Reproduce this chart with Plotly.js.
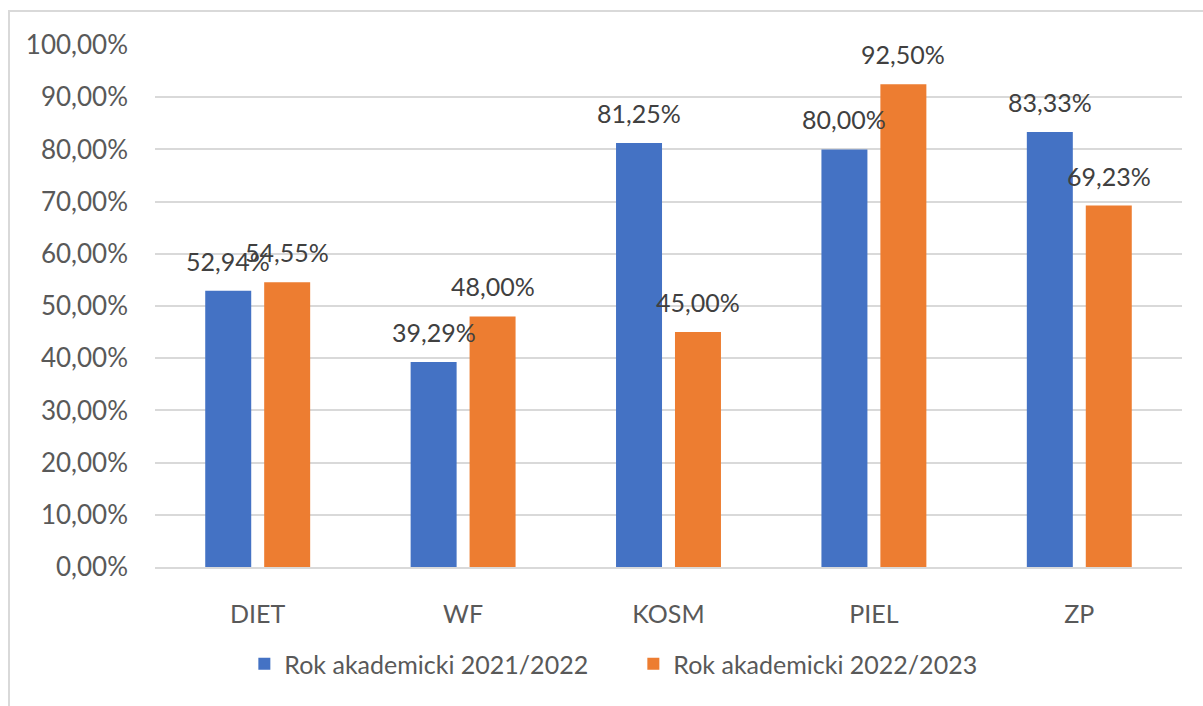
<!DOCTYPE html>
<html>
<head>
<meta charset="utf-8">
<script src="https://cdn.plot.ly/plotly-3.0.1.min.js"></script>
<style>
  html, body { margin: 0; padding: 0; background: #ffffff; overflow: hidden; }
  #frame { position: absolute; left: 8px; top: 10px; width: 1210px; height: 720px; border: 2px solid #D9D9D9; box-sizing: border-box; }
  #chart { position: absolute; left: 0; top: 0; width: 1203px; height: 706px; }
</style>
</head>
<body>
<div id="frame"></div>
<div id="chart"></div>
<script>
const categories = ["DIET", "WF", "KOSM", "PIEL", "ZP"];
const seriesNames = ["Rok akademicki 2021/2022", "Rok akademicki 2022/2023"];
const values2122 = [52.94, 39.29, 81.25, 80.00, 83.33];
const values2223 = [54.55, 48.00, 45.00, 92.50, 69.23];
const yTickValues = [0, 10, 20, 30, 40, 50, 60, 70, 80, 90, 100];

const colors = ["#4472C4", "#ED7D31"];
const fontFamily = "Lato, 'Liberation Sans', Arial, sans-serif";
const series = [values2122, values2223];

const fmt = v => v.toFixed(2).replace('.', ',') + '%';

const traces = series.map((vals, i) => ({
  type: 'bar',
  name: seriesNames[i],
  x: categories,
  y: vals,
  marker: { color: colors[i] },
  hoverinfo: 'none'
}));

const slotOffset = 29.5;
const labelShift = 30;

const annotations = [];
series.forEach((vals, i) => {
  vals.forEach((v, j) => {
    annotations.push({
      x: categories[j], y: v, xref: 'x', yref: 'y',
      text: fmt(v), showarrow: false,
      xshift: i === 0 ? -slotOffset : slotOffset,
      yshift: labelShift,
      yanchor: 'middle', xanchor: 'center',
      font: { family: fontFamily, size: 25, color: '#404040' }
    });
  });
});

const layout = {
  width: 1203, height: 706,
  margin: { l: 155, r: 21, t: 45, b: 139 },
  paper_bgcolor: 'rgba(0,0,0,0)',
  plot_bgcolor: 'rgba(0,0,0,0)',
  barmode: 'group',
  bargap: 0.426,
  bargroupgap: 0.22,
  font: { family: fontFamily, size: 25, color: '#595959' },
  showlegend: true,
  legend: {
    orientation: 'h', x: 0.087, xanchor: 'left', y: -0.186, yanchor: 'middle',
    font: { family: fontFamily, size: 25, color: '#595959' },
    entrywidth: 344, entrywidthmode: 'pixels',
    traceorder: 'normal'
  },
  xaxis: {
    type: 'category',
    showgrid: false, zeroline: false,
    showline: true, linecolor: '#D9D9D9', linewidth: 2,
    ticks: '', ticklabelstandoff: 24,
    tickfont: { family: fontFamily, size: 25, color: '#595959' },
    fixedrange: true
  },
  yaxis: {
    range: [0, 100],
    tickvals: yTickValues,
    ticktext: yTickValues.map(fmt),
    showgrid: true, gridcolor: '#D9D9D9', gridwidth: 2,
    zeroline: false, showline: false,
    ticks: '', ticklabelstandoff: 26,
    tickfont: { family: fontFamily, size: 26, color: '#595959' },
    fixedrange: true
  },
  annotations: annotations
};

Plotly.newPlot('chart', traces, layout, { displayModeBar: false, staticPlot: true });
</script>
</body>
</html>
